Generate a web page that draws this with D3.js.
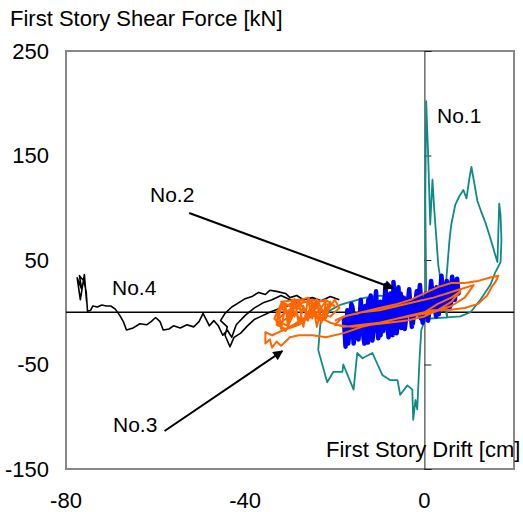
<!DOCTYPE html>
<html>
<head>
<meta charset="utf-8">
<script src="https://cdn.jsdelivr.net/npm/d3@7"></script>
<style>
  body { margin: 0; background: #fff; }
  text { font-family: "Liberation Sans", Arial, sans-serif; fill: #000; }
</style>
</head>
<body>
<script>
// tick values
const xTicks = [-80, -40, 0]
const yTicks = [250, 150, 50, -50, -150]

// hysteresis loops, [drift cm, shear kN]
const no1 = [[0,0],[0.4,21],[0.2,107],[0.4,202],[0.8,155],[1.3,84],[1.8,127],[2.2,98],[2.7,69],[3.1,45],
  [3.6,31],[4.2,12],[5.1,-5],[4.7,21],[5.6,69],[6,84],[6.9,103],[7.8,111],[8.7,117],[9.4,109],[10,127],
  [10.5,139],[11.2,122],[11.8,107],[12.7,96],[13.6,86],[14.5,74],[15.2,64],[15.8,55],[16.3,48],[16.7,104],
  [17,93],[17.2,69],[17,48],[15.8,38],[14.7,26],[12.5,12],[10.3,0],[8,-4],[5.1,-5],[1.3,-6],[0,-9],
  [-0.7,-17],[-1.1,-46],[-1.6,-93],[-2,-84],[-2.5,-103],[-2.7,-74],[-3.8,-70],[-5.4,-79],[-6,-65],
  [-7.6,-65],[-9.4,-60],[-11.6,-39],[-13.8,-44],[-15,-39],[-15.8,-74],[-18.1,-50],[-18.3,-57],[-20.3,-57],
  [-21.7,-67],[-23.7,-36],[-23.2,-10],[-21,2],[-18.8,7],[-16.5,10],[-13.2,14],[-9.8,16],[-5.4,12],[-2,7],[0,0]]

const no2 = [[-18,-5],[-17.6,-33],[-17.2,2],[-16.8,-20],[-16.3,8],[-15.8,-30],[-15.2,-4],[-14.7,-26],
  [-14.2,12],[-13.8,-18],[-13.2,6],[-12.6,-29],[-12,16],[-11.4,-14],[-10.8,20],[-10.3,-25],[-9.8,10],
  [-9.2,-18],[-8.7,26],[-8.2,-10],[-7.6,18],[-7.1,-22],[-6.9,29],[-6.4,-6],[-5.8,24],[-5.2,-15],[-4.6,14],
  [-4,-4],[-3.4,22],[-2.8,-14],[-2.2,12],[-1.6,-2],[-1,26],[-0.4,-10],[0.3,18],[0.9,-3],[1.5,30],[2.1,4],
  [2.7,24],[3.2,-2],[3.8,35],[4.4,8],[5,30],[5.6,4],[6.2,34],[6.8,12],[7.3,32],[7.6,18],
  [6.6,26],[5.8,6],[5.2,28],[4.3,2],[3.5,20],[2.6,-4],[1.8,22],[0.8,-8],[0.1,14],[-0.8,-6],[-1.7,20],
  [-2.6,-11],[-3.5,12],[-4.4,-16],[-5.3,18],[-6.2,-20],[-7.1,10],[-8,-24],[-8.9,14],[-9.8,-22],[-10.7,8],
  [-11.6,-27],[-12.5,12],[-13.4,-30],[-14.3,0],[-15.2,-24],[-16.1,6],[-17,-30],[-17.8,-8]]

const no3 = [[0,0],[3,8],[6,14],[8,20],[6,10],[3,2],[0,-4],[-4,-8],[-8,-10],[-12,-12],[-16,-14],[-20,-12],
  [-18,-4],[-14,0],[-10,2],[-6,6],[-2,10],[2,14],[5,18],[8,22],[11,26],[9,14],[6,6],[2,0],[-2,-3],[-6,-6],
  [-10,-10],[-14,-12],[-18,-14],[-21,-10],[-24,-4],[-27,2],[-30,6],[-32,10],[-28,12],[-25,8],[-22,12],
  [-20,6],[-22,8],[-23,-10],[-24,10],[-25,-6],[-26,12],[-27,-14],[-28,9],[-29,-4],[-29.5,12],[-30.5,-12],
  [-31,6],[-32,-16],[-32.5,2],[-33,-10],[-31.5,10],[-30,-8],[-29,13],[-28,-12],[-27,6],[-26,-8],[-25,11],
  [-24,-14],[-23,4],[-22,-6],[-21,10],[-22.5,-2],[-24,13],[-26,-4],[-28,11],[-30,-2],[-32,8],[-33.5,-6],
  [-31,-18],[-29,0],[-27,-10],[-25.5,4],[-23.5,-8],[-21.5,2],[-20,12],[-19,4],[-21,-4],
  [-24,-2],[-28,-10],[-31,-16],[-33,-12],[-30,-4],[-32,4],[-29,10],[-26,14],[-24,4],[-27,-6],
  [-30,-14],[-33,-8],[-31,0],[-28,8],[-25,12],[-22,10],[-24,0],[-28,-12],[-32,-18],[-34,-22],[-35.5,-19],
  [-35.5,-30],[-34.5,-26],[-34,-34],[-33,-28],[-32,-32],[-30,-24],[-28,-22],[-25,-22],[-22,-24],[-18,-20],
  [-14,-14],[-10,-10],[-6,-6],[-2,-2],[2,2],[5,2],[9,4],[12,8],[14,16],[15,24],[16,30],[16.5,35],[14.5,33],
  [12,30],[9,28],[6,28],[3,24],[0,18],[-3,12],[-6,8],[-10,4],[-14,0],[-18,-4],[-20,-8]]

const no4 = [[-19,12],[-21,15],[-23,11],[-25,14],[-27,12],[-28.5,16],[-30,14],[-31,18],[-33,20],[-34.5,21],
  [-35.5,17],[-37,19],[-38.5,15],[-40,13],[-41.5,9],[-43,5],[-44.5,-1],[-45.5,-8],[-44,-14],[-44.5,-22],
  [-43.4,-33],[-42.5,-24],[-41,-20],[-39.5,-13],[-38,-7],[-36,-3],[-34,1],[-32,4],[-30,7],[-28,9],[-30,12],
  [-32,16],[-34,12],[-36,9],[-38,4],[-40,-3],[-42,-12],[-43,-24],[-44,-17],[-45,-22],[-46,-13],[-47,-8],
  [-48,-13],[-49.4,-1],[-50.3,-9],[-51.5,-14],[-53,-12],[-54.5,-15],[-56,-13],[-57,-16],[-58.3,-17],[-59,-9],
  [-60,-5],[-61,-9],[-62,-12],[-63.5,-11],[-65,-15],[-66.5,-17],[-67.2,-9],[-68,-3],[-69,3],[-70,6],[-71,6],
  [-72,7],[-73,5],[-74,6],[-74.5,2],[-75.2,1],[-75.5,20],[-76,30],[-77,35],[-76.5,22],[-77.5,33],[-76.8,12],
  [-75.9,36],[-75.4,10]]

// arrows: [from, to] in data units
const arrowNo2 = [[-52.5, 95], [-6.9, 23]]
const arrowNo3 = [[-58, -113.6], [-31.7, -37.1]]

const W = 523, H = 512
const margin = {top: 51, right: 9, bottom: 43, left: 66}

const x = d3.scaleLinear().domain([-80, 20]).range([margin.left, W - margin.right])
const y = d3.scaleLinear().domain([-150, 250]).range([H - margin.bottom, margin.top])

const svg = d3.select("body").append("svg")
  .attr("width", W).attr("height", H)

svg.append("defs").append("marker")
  .attr("id", "head")
  .attr("viewBox", "0 0 10 10")
  .attr("refX", 9).attr("refY", 5)
  .attr("markerWidth", 6).attr("markerHeight", 5)
  .attr("markerUnits", "strokeWidth")
  .attr("orient", "auto")
  .append("path").attr("d", "M0,0L10,5L0,10Z").attr("fill", "#000")

// frame
svg.append("rect")
  .attr("x", x(-80)).attr("y", y(250))
  .attr("width", x(20) - x(-80)).attr("height", y(-150) - y(250))
  .attr("fill", "none").attr("stroke", "#888").attr("stroke-width", 2)

// horizontal zero line
svg.append("line")
  .attr("x1", x(-80)).attr("x2", x(20)).attr("y1", y(0)).attr("y2", y(0))
  .attr("stroke", "#000").attr("stroke-width", 1.3)

// vertical axis at drift 0, ticks pointing right
const yAxis = svg.append("g")
  .attr("transform", "translate(" + x(0) + ",0)")
  .call(d3.axisRight(y).tickValues(yTicks).tickSize(7).tickFormat(""))
yAxis.select(".domain").attr("stroke", "#222")
yAxis.selectAll("line").attr("stroke", "#222")

// y tick labels on the left of the frame
svg.selectAll(".ylab").data(yTicks).enter().append("text")
  .attr("class", "ylab")
  .attr("x", 49).attr("y", d => y(d))
  .attr("dy", "0.36em")
  .attr("text-anchor", "end")
  .style("font-size", "22px")
  .text(d => d)

// x tick labels below
svg.selectAll(".xlab").data(xTicks).enter().append("text")
  .attr("class", "xlab")
  .attr("x", d => x(d)).attr("y", 508)
  .attr("text-anchor", "middle")
  .style("font-size", "22px")
  .text(d => d)

const line = d3.line().x(d => x(d[0])).y(d => y(d[1]))

svg.append("path").datum(no1).attr("d", line)
  .attr("fill", "none").attr("stroke", "#0f8a86").attr("stroke-width", 1.8).attr("stroke-linejoin", "round")
svg.append("path").datum(no4).attr("d", line)
  .attr("fill", "none").attr("stroke", "#000").attr("stroke-width", 1.6).attr("stroke-linejoin", "round")
svg.append("path").datum(no2).attr("d", line)
  .attr("fill", "none").attr("stroke", "#0000ff").attr("stroke-width", 4.5).attr("stroke-linejoin", "round")
svg.append("path").datum(no3).attr("d", line)
  .attr("fill", "none").attr("stroke", "#ff6600").attr("stroke-width", 2).attr("stroke-linejoin", "round")

// arrows
for (const a of [arrowNo2, arrowNo3]) {
  svg.append("line")
    .attr("x1", x(a[0][0])).attr("y1", y(a[0][1]))
    .attr("x2", x(a[1][0])).attr("y2", y(a[1][1]))
    .attr("stroke", "#000").attr("stroke-width", 2)
    .attr("marker-end", "url(#head)")
}

// labels
const labels = [
  {t: "No.1", x: 437, y: 123},
  {t: "No.2", x: 150, y: 202},
  {t: "No.3", x: 113, y: 432},
  {t: "No.4", x: 112, y: 295}
]
svg.selectAll(".lab").data(labels).enter().append("text")
  .attr("x", d => d.x).attr("y", d => d.y)
  .style("font-size", "21px")
  .text(d => d.t)

svg.append("text").attr("x", 10).attr("y", 26)
  .style("font-size", "22px")
  .text("First Story Shear Force [kN]")
svg.append("text").attr("x", 326).attr("y", 457)
  .style("font-size", "22px")
  .text("First Story Drift [cm]")
</script>
</body>
</html>
